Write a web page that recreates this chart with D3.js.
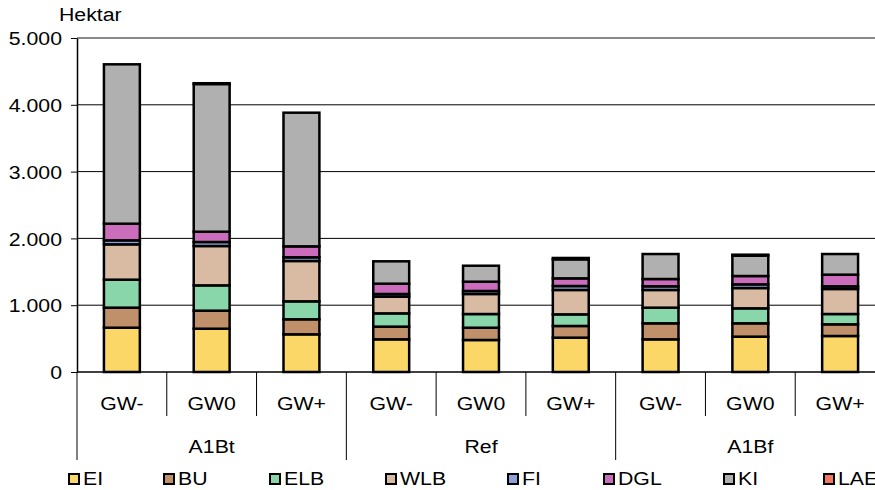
<!DOCTYPE html>
<html>
<head>
<meta charset="utf-8">
<script src="https://cdn.jsdelivr.net/npm/d3@7"></script>
<style>
  body { margin: 0; background: #fff; }
  text { font-family: "Liberation Sans", Arial, sans-serif; fill: #000; font-size: 19px; }
</style>
</head>
<body>
<div id="chart"></div>
<script>
// Chart data
const groups = ['A1Bt', 'Ref', 'A1Bf'];
const scenarios = ['GW-', 'GW0', 'GW+'];
const seriesKeys = ['EI', 'BU', 'ELB', 'WLB', 'FI', 'DGL', 'KI', 'LAE'];
const seriesColors = ['#fad766', '#c0906a', '#88d6aa', '#d9bba3', '#8ea1d6', '#cc6cbc', '#b0b0b0', '#f2795f'];

// values per series, one per bar (A1Bt GW-, GW0, GW+, Ref ..., A1Bf ...)
const EI  = [663, 648, 564, 489, 479, 514, 489, 529, 539];
const BU  = [300, 270, 225, 190, 184, 175, 240, 200, 175];
const ELB = [419, 379, 269, 199, 205, 174, 234, 224, 154];
const WLB = [529, 589, 604, 250, 300, 365, 265, 304, 375];
const FI  = [60, 60, 55, 40, 45, 59, 55, 55, 40];
const DGL = [249, 154, 164, 154, 139, 115, 109, 125, 174];
const KI  = [2386, 2211, 2001, 335, 239, 285, 374, 304, 309];
const LAE = [0, 12, 0, 0, 0, 20, 0, 15, 0];

const yTicks = [0, 1000, 2000, 3000, 4000, 5000];
const yLabel = 'Hektar';

// text in the original is a little wider than Arial
const SX = 1.12;

function renderChart() {
    const svg = d3.select('#chart').append('svg')
        .attr('width', 875)
        .attr('height', 490);

    const plot = { left: 77, right: 885, top: 38, bottom: 372 };

    // build table from the arrays
    const seriesValues = [EI, BU, ELB, WLB, FI, DGL, KI, LAE];
    const bars = [];
    groups.forEach((g, gi) => {
        scenarios.forEach((s, si) => {
            const i = gi * scenarios.length + si;
            const row = { id: i, group: g, scenario: s };
            seriesKeys.forEach((k, ki) => { row[k] = seriesValues[ki][i]; });
            bars.push(row);
        });
    });

    const x = d3.scaleBand()
        .domain(bars.map(d => d.id))
        .range([plot.left, plot.right])
        .padding(0);

    const y = d3.scaleLinear()
        .domain([0, 5000])
        .range([plot.bottom, plot.top]);

    const fmt = d3.formatLocale({ decimal: ',', thousands: '.', grouping: [3], currency: ['', ''] }).format(',d');

    // helper: stretched text placed at (px, py)
    function label(sel, px, py, anchor) {
        return sel.append('text')
            .attr('transform', `translate(${px},${py}) scale(${SX},1)`)
            .attr('text-anchor', anchor || 'start');
    }

    // gridlines
    svg.append('g')
        .selectAll('line')
        .data(yTicks.filter(t => t > 0 && t < 5000))
        .enter().append('line')
        .attr('x1', plot.left).attr('x2', plot.right)
        .attr('y1', d => y(d)).attr('y2', d => y(d))
        .attr('stroke', '#000').attr('stroke-width', 1);

    // top border of plot area
    svg.append('line')
        .attr('x1', plot.left).attr('x2', plot.right)
        .attr('y1', y(5000)).attr('y2', y(5000))
        .attr('stroke', '#8a8a8a').attr('stroke-width', 2);

    // stacked bars
    const stack = d3.stack().keys(seriesKeys);
    const layers = stack(bars);
    const barW = x.bandwidth() * 0.4;

    svg.append('g')
        .selectAll('g')
        .data(layers)
        .enter().append('g')
        .attr('fill', (d, i) => seriesColors[i])
        .selectAll('rect')
        .data(d => d.filter(p => p[1] - p[0] > 0))
        .enter().append('rect')
        .attr('x', d => x(d.data.id) + (x.bandwidth() - barW) / 2)
        .attr('width', barW)
        .attr('y', d => y(d[1]))
        .attr('height', d => y(d[0]) - y(d[1]))
        .attr('stroke', '#000')
        .attr('stroke-width', 2.5);

    // y axis
    const yAxis = svg.append('g')
        .attr('transform', `translate(${plot.left},0)`)
        .call(d3.axisLeft(y).tickValues(yTicks).tickSize(6).tickSizeOuter(0).tickFormat(fmt));
    yAxis.select('.domain').attr('stroke', '#000').attr('stroke-width', 1.5);
    yAxis.selectAll('.tick line').attr('stroke', '#000');
    yAxis.selectAll('.tick text')
        .attr('x', -15 / SX)
        .attr('transform', `scale(${SX},1)`)
        .attr('dy', '0.35em')
        .style('font-size', '19px')
        .style('font-family', '"Liberation Sans", Arial, sans-serif');

    label(svg, 59, 21).text(yLabel);

    // x axis baseline
    svg.append('line')
        .attr('x1', plot.left).attr('x2', plot.right)
        .attr('y1', plot.bottom).attr('y2', plot.bottom)
        .attr('stroke', '#000').attr('stroke-width', 1.5);

    // category separators
    svg.append('g')
        .selectAll('line')
        .data(bars)
        .enter().append('line')
        .attr('x1', d => x(d.id)).attr('x2', d => x(d.id))
        .attr('y1', plot.bottom)
        .attr('y2', d => d.id % scenarios.length === 0 ? 460 : 416)
        .attr('stroke', '#000').attr('stroke-width', 1);

    const scenG = svg.append('g');
    bars.forEach(d => {
        label(scenG, x(d.id) + x.bandwidth() / 2, 410, 'middle').text(d.scenario);
    });

    const groupG = svg.append('g');
    groups.forEach((g, i) => {
        label(groupG, x(i * scenarios.length) + x.bandwidth() * 1.5, 453, 'middle').text(g);
    });

    // legend
    const legendX = [68, 163, 269, 385, 507, 603, 723, 823];
    const legend = svg.append('g')
        .selectAll('g')
        .data(seriesKeys)
        .enter().append('g')
        .attr('transform', (d, i) => `translate(${legendX[i]},473)`);
    legend.append('rect')
        .attr('x', 1).attr('y', 1)
        .attr('width', 10).attr('height', 10)
        .attr('fill', (d, i) => seriesColors[i])
        .attr('stroke', '#000').attr('stroke-width', 2);
    legend.each(function(d) {
        label(d3.select(this), 15, 12).text(d);
    });
}

renderChart();
</script>
</body>
</html>
